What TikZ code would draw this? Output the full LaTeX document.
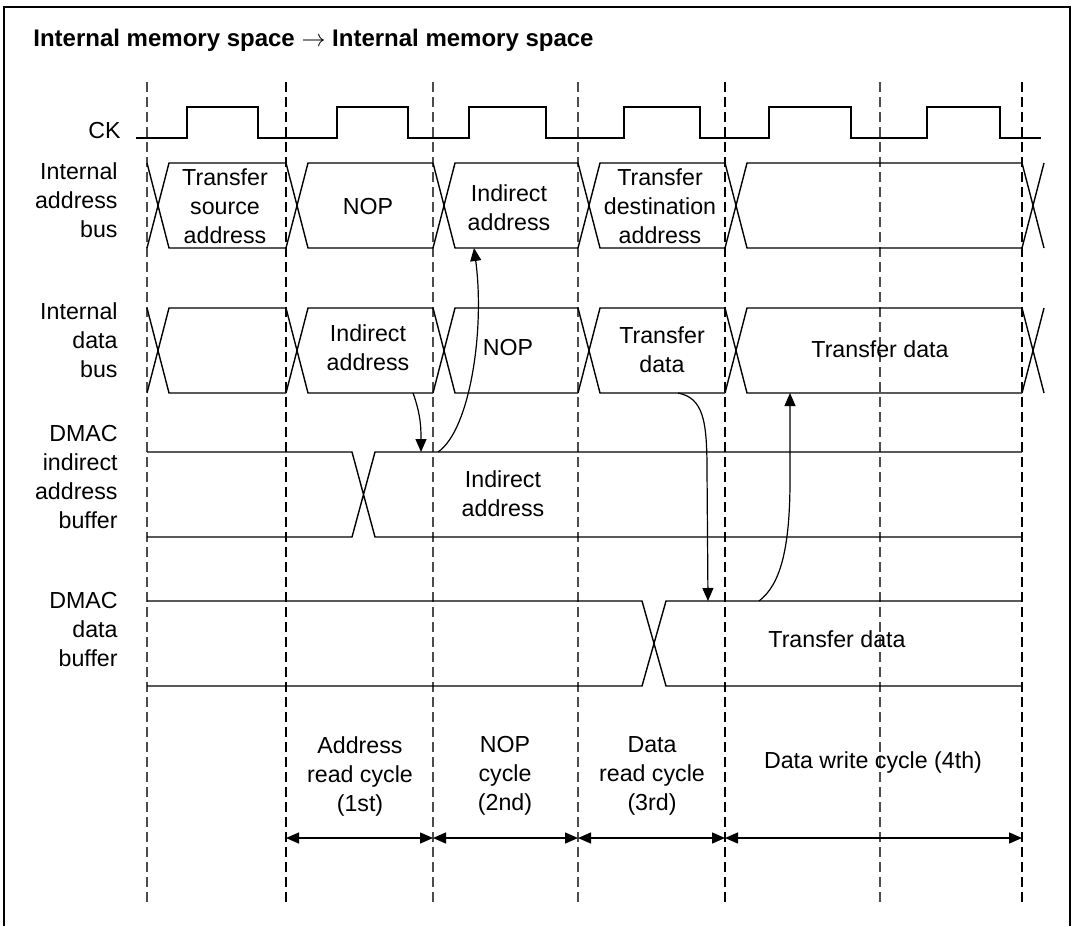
\documentclass[tikz,border=0pt]{standalone}
\usepackage{fontspec}
\setmainfont{Liberation Sans}
\usetikzlibrary{arrows.meta}

\begin{document}
\begin{tikzpicture}[x=0.5pt, y=-0.5pt, font=\fontsize{11.6}{14.5}\selectfont,
  bus/.style={line width=0.7pt},
  cut/.style={dash pattern=on 5pt off 2.5pt, line width=0.55pt},
  flow/.style={-{Triangle[length=6.5pt,width=5.5pt]}, line width=0.6pt},
  span/.style={{Triangle[length=6.5pt,width=5.5pt]}-{Triangle[length=6.5pt,width=5.5pt]},
               line width=0.7pt},
  lbl/.style={anchor=east, align=right, inner sep=0pt},
  txt/.style={align=center, inner sep=0pt}]
  \useasboundingbox (0,0) rectangle (1075,926);
  \draw[line width=1pt] (4,926) |- (1070,7) -- (1070,926);
  \node[anchor=base west, inner sep=0pt, font=\fontsize{12}{14}\selectfont\bfseries]
    (title) at (33,46) {Internal memory space $\rightarrow$ Internal memory space};

  \foreach \x in {286,725,1022} \draw[cut] (\x,82) -- (\x,905);
  \foreach \x in {147,433,578,880} \draw[cut, black!70] (\x,82) -- (\x,905);

  \node[lbl] (lck) at (121,131) {CK};
  \node[lbl] (laddr) at (118,200) {Internal\\address\\bus};
  \node[lbl] (ldata) at (118,340) {Internal\\data\\bus};
  \node[lbl] (lind) at (118,477) {DMAC\\indirect\\address\\buffer};
  \node[lbl] (lbuf) at (118,630) {DMAC\\data\\buffer};

  \draw[bus] (136,138) \foreach \r/\f in {187/258, 337/408, 469/546, 624/700, 769/851, 927/1000}
    { -- (\r,138) -- (\r,107) -- (\f,107) -- (\f,138) } -- (1041,138);

  \foreach \t/\b in {163/248, 308/393} {
    \foreach \xa/\xb in {147/286, 286/433, 433/578, 578/725, 725/1022}
      \draw[bus] (\xa,\t) -- (\xa+22,\b) -- (\xb,\b) (\xa,\b) -- (\xa+22,\t) -- (\xb,\t);
    \draw[bus] (1022,\t) -- (1044,\b) (1022,\b) -- (1044,\t);
  }
  \draw[bus] (147,452) -- (352,452) -- (375,537) -- (1022,537)
             (147,537) -- (352,537) -- (375,452) -- (1022,452);
  \draw[bus] (147,601) -- (642,601) -- (666,686) -- (1022,686)
             (147,686) -- (642,686) -- (666,601) -- (1022,601);

  \node[txt] (asrc) at (225,206) {Transfer\\source\\address};
  \node[txt] (anop) at (368,207) {NOP};
  \node[txt] (aind) at (509,208) {Indirect\\address};
  \node[txt] (adst) at (660,206) {Transfer\\destination\\address};
  \node[txt] (dind) at (368,348) {Indirect\\address};
  \node[txt] (dnop) at (508,348) {NOP};
  \node[txt] (dtd) at (662,350) {Transfer\\data};
  \node[txt] (dtdw) at (880,349) {Transfer data};
  \node[txt] (bind) at (503,494) {Indirect\\address};
  \node[txt] (btd) at (837,639) {Transfer data};

  \coordinate (ia1) at (413,393);
  \coordinate (ia2) at (421,452);
  \coordinate (ia3) at (438,452);
  \coordinate (ia4) at (474,248);
  \coordinate (td1) at (678,393);
  \coordinate (td2) at (708,601);
  \coordinate (td3) at (759,601);
  \coordinate (td4) at (790,393);
  \draw[flow] (ia1) to[out=-70, in=90] (ia2);
  \draw[flow] (ia3) .. controls (470,430) and (485,330) .. (ia4);
  \draw[flow] (td1) .. controls (703,398) and (707,420) .. (707,470) -- (td2);
  \draw[flow] (td3) .. controls (780,585) and (790,550) .. (790,480) -- (td4);

  \node[txt] (cyc1) at (360,776) {Address\\read cycle\\(1st)};
  \node[txt] (cyc2) at (505,776) {NOP\\cycle\\(2nd)};
  \node[txt] (cyc3) at (652,776) {Data\\read cycle\\(3rd)};
  \node[txt] (cyc4) at (873,762) {Data write cycle (4th)};
  \foreach \x [count=\i] in {286,433,578,725,1022} \coordinate (t\i) at (\x,838);
  \foreach \a/\b in {t1/t2, t2/t3, t3/t4, t4/t5} \draw[span] (\a) -- (\b);
\end{tikzpicture}
\end{document}
